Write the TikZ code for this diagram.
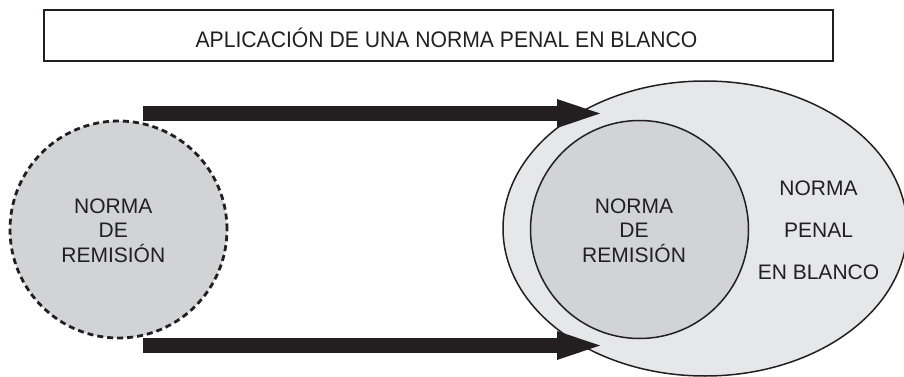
\documentclass[tikz,border=0pt]{standalone}
\usepackage{fontspec}
\usepackage{graphicx}
\setmainfont{Liberation Sans}
\usetikzlibrary{arrows.meta,shapes.geometric}
\definecolor{ink}{HTML}{231F20}
\definecolor{grayA}{HTML}{D1D3D4}
\definecolor{grayB}{HTML}{E6E7E8}
\begin{document}
\begin{tikzpicture}[x=1pt,y=-1pt,
  lbl/.style={text=ink, font=\fontsize{21}{24.8}\selectfont, align=center, inner sep=0pt},
  lblwide/.style={text=ink, font=\fontsize{21}{42.2}\selectfont, align=center, inner sep=0pt},
  titlebox/.style={draw=ink, line width=2pt, minimum width=788.5pt, minimum height=51pt, inner sep=0pt},
  dashcircle/.style={circle, draw=ink, dash pattern=on 6pt off 4pt, line width=2.8pt, fill=grayA, minimum size=217pt, inner sep=0pt},
  bigellipse/.style={ellipse, draw=ink, line width=1.5pt, fill=grayB, minimum width=404pt, minimum height=295pt, inner sep=0pt},
  innercircle/.style={circle, draw=ink, line width=1.5pt, fill=grayA, minimum size=218pt, inner sep=0pt},
  bigarrow/.style={ink, line width=15pt, -{Triangle[length=43pt,width=29pt,line width=0pt]}}
]
\useasboundingbox (0,0) rectangle (904,377);

% title
\node[titlebox] (tbox) at (438.25,36) {};
\node[anchor=base, text=ink, font=\fontsize{22.5}{27}\selectfont, inner sep=0pt] (title) at (446.5,47.1)
  {\scalebox{0.94}[1]{APLICACIÓN DE UNA NORMA PENAL EN BLANCO}};

% left circle
\node[dashcircle] (remL) at (118.5,229.5) {};
\node[lbl] (remLtxt) at (113.3,230.7) {NORMA\\DE\\REMISIÓN};

% right ellipse and inner circle
\node[bigellipse] (npb) at (705,228.5) {};
\node[innercircle] (remR) at (639.5,229.5) {};
\node[lbl] (remRtxt) at (634,230.7) {NORMA\\DE\\REMISIÓN};
\node[lblwide] (npbtxt) at (818.5,230.5) {NORMA\\PENAL\\EN BLANCO};

% arrows
\coordinate (a1s) at (143,113.5);
\coordinate (a1e) at (600,113.5);
\coordinate (a2s) at (143,345.5);
\coordinate (a2e) at (600,345.5);
\draw[bigarrow] (a1s) -- (a1e);
\draw[bigarrow] (a2s) -- (a2e);
\end{tikzpicture}
\end{document}
